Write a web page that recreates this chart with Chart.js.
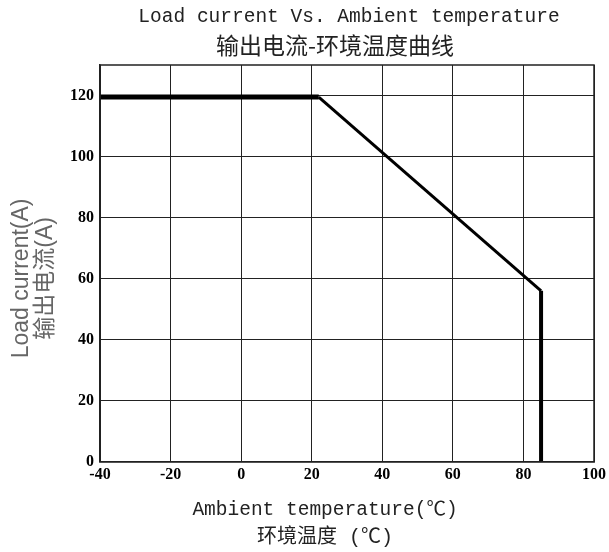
<!DOCTYPE html>
<html>
<head>
<meta charset="utf-8">
<script src="https://cdn.jsdelivr.net/npm/chart.js@4/dist/chart.umd.min.js"></script>
<style>
    html, body { margin: 0; padding: 0; background: #fff; }
    #wrap { width: 609px; height: 552px; }
</style>
</head>
<body>
<div id="wrap"><canvas id="grafico" width="609" height="552"></canvas></div>
<script>
// Dados da curva de derating
const temperaturas = [-40, 22, 85, 85];
const correntes = [119.5, 119.5, 56, 0];
const espessuras = [5, 3, 4];

const xTicks = [-40, -20, 0, 20, 40, 60, 80, 100];
const yTicks = [0, 20, 40, 60, 80, 100, 120];

const tituloEn = 'Load current Vs. Ambient temperature';
const tituloCn = '输出电流-环境温度曲线';
const eixoX = ['Ambient temperature(℃)', '环境温度 (℃)'];
const eixoY = ['Load current(A)', '输出电流(A)'];

const fonteMono = "'Liberation Mono', 'Noto Sans CJK SC', monospace";
const fonteTick = { family: "'Liberation Serif', serif", size: 16, weight: 'bold' };

// Moldura, título e títulos dos eixos
const moldura = {
    id: 'moldura',
    afterDatasetsDraw(chart) {
        const { ctx, chartArea: a } = chart;
        ctx.save();
        ctx.strokeStyle = '#222';
        ctx.lineWidth = 1.5;
        ctx.strokeRect(a.left, a.top, a.right - a.left, a.bottom - a.top);

        ctx.fillStyle = '#222';
        ctx.textAlign = 'center';
        ctx.textBaseline = 'middle';

        // título
        const tx = (a.left + a.right) / 2 + 2;
        ctx.font = "19.5px " + fonteMono;
        ctx.fillText(tituloEn, tx, 17);
        ctx.font = "23px 'Noto Sans CJK SC', sans-serif";
        ctx.fillText(tituloCn, tx - 14, 45);

        // título do eixo X
        const cx = (a.left + a.right) / 2 - 22;
        ctx.font = "19.5px " + fonteMono;
        ctx.fillText(eixoX[0], cx, a.bottom + 48);
        ctx.font = "20px " + fonteMono;
        ctx.fillText(eixoX[1], cx, a.bottom + 76);

        // título do eixo Y
        ctx.fillStyle = '#666';
        const cy = (a.top + a.bottom) / 2 + 15;
        ctx.font = "23px 'Liberation Sans', 'Noto Sans CJK SC', sans-serif";
        ctx.translate(22, cy);
        ctx.rotate(-Math.PI / 2);
        ctx.fillText(eixoY[0], 0, 0);
        ctx.fillText(eixoY[1], 0, 24);
        ctx.restore();
    }
};

const ctx = document.getElementById('grafico').getContext('2d');
new Chart(ctx, {
    type: 'line',
    data: {
        datasets: [{
            data: temperaturas.map((t, i) => ({ x: t, y: correntes[i] })),
            borderColor: '#000',
            borderWidth: 3,
            pointRadius: 0,
            tension: 0,
            borderJoinStyle: 'miter',
            segment: {
                borderWidth: c => espessuras[c.p0DataIndex]
            }
        }]
    },
    options: {
        responsive: false,
        animation: false,
        layout: { padding: { left: 64, right: 0, top: 65, bottom: 65 } },
        plugins: {
            legend: { display: false },
            tooltip: { enabled: false },
            title: { display: false },
            subtitle: { display: false }
        },
        scales: {
            x: {
                type: 'linear',
                min: -40,
                max: 100,
                afterBuildTicks: s => { s.ticks = xTicks.map(v => ({ value: v })); },
                ticks: { color: '#000', font: fonteTick, padding: 3, maxRotation: 0 },
                grid: { color: '#222', lineWidth: 1, drawTicks: false },
                border: { color: '#222', width: 1.5 }
            },
            y: {
                type: 'linear',
                min: 0,
                max: 130,
                afterBuildTicks: s => { s.ticks = yTicks.map(v => ({ value: v })); },
                ticks: { color: '#000', font: fonteTick, padding: 6 },
                grid: { color: '#222', lineWidth: 1, drawTicks: false },
                border: { color: '#222', width: 1.5 }
            }
        }
    },
    plugins: [moldura]
});
</script>
</body>
</html>
